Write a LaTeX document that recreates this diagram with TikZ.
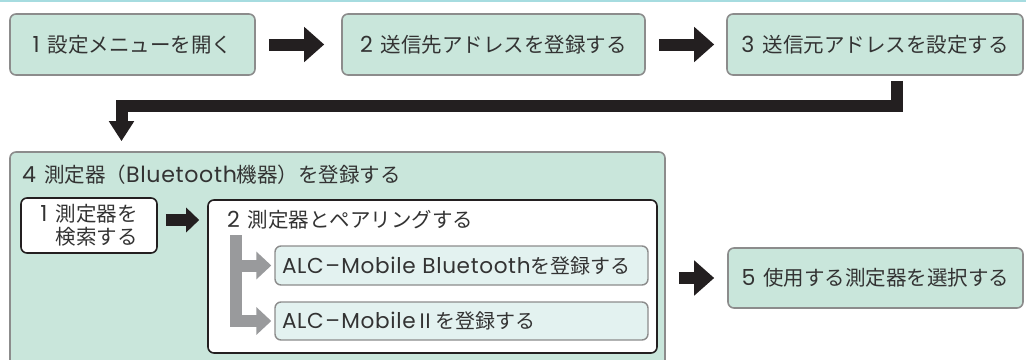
\documentclass[tikz,border=0pt]{standalone}
\usepackage{fontspec}
\setmainfont{Noto Sans CJK JP}
\newfontfamily\lt[Scale=1.08,LetterSpace=3]{Poppins}
\usetikzlibrary{arrows.meta}
\definecolor{boxgreen}{HTML}{C9E6DB}
\definecolor{boxedge}{HTML}{8C8C8C}
\definecolor{subfill}{HTML}{E3F2F0}
\definecolor{txt}{HTML}{333333}
\definecolor{arrblk}{HTML}{231F20}
\definecolor{arrgray}{HTML}{999A9C}
\definecolor{topline}{HTML}{A6DCE0}
\tikzset{
  stepbox/.style={draw=boxedge, line width=1.6pt, fill=boxgreen, rounded corners=6pt, text=txt, inner sep=0pt},
  whitebox/.style={draw=arrblk, line width=1.6pt, fill=white, rounded corners=6pt, text=txt, inner sep=0pt},
  subbox/.style={draw=boxedge, line width=1.4pt, fill=subfill, rounded corners=6pt, text=txt, inner xsep=7pt, inner ysep=0pt, text width=359pt, align=left},
  lbl/.style={text=txt, inner sep=0pt, anchor=west},
  blkarrow/.style={draw=arrblk, line width=12pt, -{Triangle[length=20pt,width=34pt]}},
  blkarrowsm/.style={draw=arrblk, line width=12pt, -{Triangle[length=13pt,width=24pt]}},
  bentarrow/.style={draw=arrblk, line width=12pt, line join=miter, -{Triangle[length=20pt,width=24pt]}},
  grayarrow/.style={draw=arrgray, line width=12pt, line join=miter, -{Triangle[length=15pt,width=27pt]}},
}
\newcommand{\nsp}{\hspace{8pt}}
\newcommand{\dsh}{{\lt\hspace{1.5pt}–\hspace{1.5pt}}}
\begin{document}
\begin{tikzpicture}[x=1pt,y=-1pt, font=\fontsize{20.5}{23.5}\selectfont]
\clip (0,0) rectangle (1026,359);
\fill[topline] (0,0) rectangle (1026,1.6);
% top row
\node[stepbox, minimum width=245pt, minimum height=61pt] (b1) at (132.5,44.5) {{\lt 1}\nsp 設定メニューを開く};
\node[stepbox, minimum width=303pt, minimum height=61pt] (b2) at (493.5,44.5) {{\lt 2}\nsp 送信先アドレスを登録する};
\node[stepbox, minimum width=296pt, minimum height=61pt] (b3) at (875,44.5) {{\lt 3}\nsp 送信元アドレスを設定する};
% big container
\node[stepbox, minimum width=655pt, minimum height=228pt] (b4) at (337.5,266) {};
\node[lbl] (t4) at (22,175) {{\lt 4}\nsp 測定器（{\lt Bluetooth}機器）を登録する};
\node[whitebox, minimum width=136pt, minimum height=55pt, align=right] (s1) at (89,225.5) {{\lt 1}\nsp 測定器を\\検索する};
\node[whitebox, minimum width=449pt, minimum height=153pt] (p2) at (432.5,276.5) {};
\node[lbl] (t2) at (227,220) {{\lt 2}\nsp 測定器とペアリングする};
\node[subbox, minimum height=39pt, font=\fontsize{20}{23}\selectfont] (a1) at (461.5,265.5) {{\lt ALC}\dsh{\lt Mobile Bluetooth}を登録する};
\node[subbox, minimum height=38pt, font=\fontsize{20}{23}\selectfont] (a2) at (461.5,321) {{\lt ALC}\dsh{\lt Mobile}Ⅱを登録する};
\node[stepbox, minimum width=295pt, minimum height=60pt] (b5) at (875.5,278) {{\lt 5}\nsp 使用する測定器を選択する};
% connectors
\draw[blkarrow] ([xshift=13pt]b1.east) -- ([xshift=-17pt]b2.west);
\draw[blkarrow] ([xshift=13pt]b2.east) -- ([xshift=-12pt]b3.west);
\coordinate (bend) at (121.5,105.5);
\draw[bentarrow, shorten >=10pt] ([xshift=22pt,yshift=-5pt]b3.south) |- (bend) -- (bend |- b4.north);
\coordinate (e1) at (s1.east |- t2.west);
\coordinate (e2) at (p2.west |- t2.west);
\draw[blkarrowsm] ([xshift=8pt]e1) -- ([xshift=-8pt]e2);
\coordinate (gtop) at (236,235);
\draw[grayarrow] (gtop) |- ([xshift=-3pt]a1.west);
\draw[grayarrow] (gtop) |- ([xshift=-3pt]a2.west);
\coordinate (e5) at (b4.east |- b5.west);
\draw[blkarrow] ([xshift=13pt]e5) -- ([xshift=-13pt]b5.west);
\end{tikzpicture}
\end{document}
